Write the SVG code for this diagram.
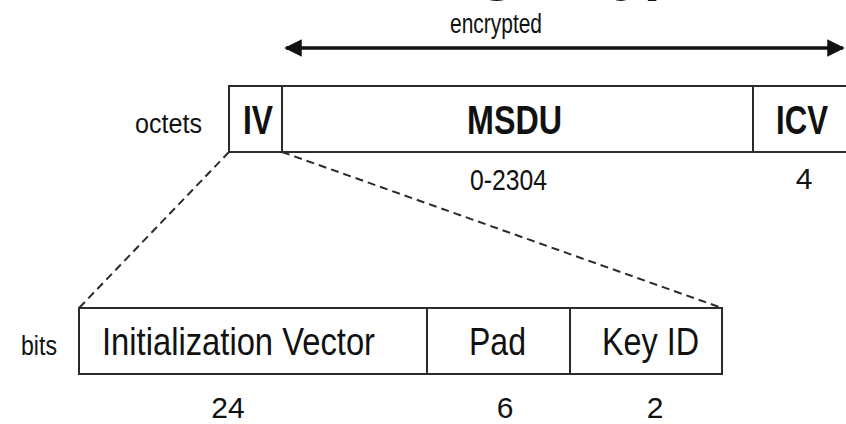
<svg xmlns="http://www.w3.org/2000/svg" width="846" height="424" viewBox="0 0 846 424">
  <defs>
    <style>
      .box { fill: #ffffff; stroke: #2b2b2b; stroke-width: 2; }
      .div { stroke: #2b2b2b; stroke-width: 2; }
      .dash { stroke: #2b2b2b; stroke-width: 2; stroke-dasharray: 8 5; fill: none; }
      .t { font-family: "Liberation Sans", Arial, sans-serif; fill: #111111; }
      .hdr { font-weight: bold; font-size: 40px; }
      .fld { font-size: 39px; }
      .num { font-size: 30px; }
      .lab { font-size: 27px; }
    </style>
    <marker id="arrowHead" viewBox="0 0 10 10" refX="9" refY="5" markerWidth="5" markerHeight="5" orient="auto-start-reverse" markerUnits="strokeWidth">
      <path d="M0,0 L10,5 L0,10 Z" fill="#111111"/>
    </marker>
  </defs>

  <rect width="846" height="424" fill="#ffffff"/>

  <!-- heading, cut off by the top edge: only its descenders remain -->
  <text class="t" x="234" y="-12" font-size="62" font-weight="bold">Encoding Key)</text>

  <!-- encrypted span -->
  <g id="encrypted-span">
    <line x1="286" y1="48" x2="843" y2="48" stroke="#111111" stroke-width="3.5" marker-start="url(#arrowHead)" marker-end="url(#arrowHead)"/>
    <text class="t lab" x="496" y="33" text-anchor="middle" textLength="92" lengthAdjust="spacingAndGlyphs">encrypted</text>
  </g>

  <!-- octet frame -->
  <g id="octet-frame">
    <text class="t lab" x="135" y="133" textLength="67" lengthAdjust="spacingAndGlyphs">octets</text>
    <rect class="box" x="229" y="86" width="640" height="66"/>
  </g>
  <g id="iv">
    <line class="div" x1="282" y1="86" x2="282" y2="152"/>
    <text class="t hdr" x="243" y="133.5" textLength="30" lengthAdjust="spacingAndGlyphs">IV</text>
  </g>
  <g id="msdu">
    <text class="t hdr" x="467" y="133.5" textLength="95" lengthAdjust="spacingAndGlyphs">MSDU</text>
    <text class="t num" x="470" y="190" textLength="77" lengthAdjust="spacingAndGlyphs">0-2304</text>
  </g>
  <g id="icv">
    <line class="div" x1="753" y1="86" x2="753" y2="152"/>
    <text class="t hdr" x="776" y="133.5" textLength="52" lengthAdjust="spacingAndGlyphs">ICV</text>
    <text class="t num" x="804" y="189" text-anchor="middle">4</text>
  </g>

  <!-- expansion of the IV field -->
  <g id="connectors">
    <line class="dash" x1="229" y1="152" x2="79" y2="308"/>
    <line class="dash" x1="282" y1="152" x2="722" y2="308"/>
  </g>

  <!-- bit frame -->
  <g id="bit-frame">
    <text class="t lab" x="21" y="355" textLength="36" lengthAdjust="spacingAndGlyphs">bits</text>
    <rect class="box" x="79" y="308" width="643" height="66"/>
  </g>
  <g id="init-vector">
    <text class="t fld" x="102" y="355" textLength="273" lengthAdjust="spacingAndGlyphs">Initialization Vector</text>
    <text class="t num" x="228" y="418" text-anchor="middle">24</text>
  </g>
  <g id="pad">
    <line class="div" x1="427" y1="308" x2="427" y2="374"/>
    <text class="t fld" x="469" y="355" textLength="57" lengthAdjust="spacingAndGlyphs">Pad</text>
    <text class="t num" x="505" y="418" text-anchor="middle">6</text>
  </g>
  <g id="key-id">
    <line class="div" x1="570" y1="308" x2="570" y2="374"/>
    <text class="t fld" x="602" y="355" textLength="97" lengthAdjust="spacingAndGlyphs">Key ID</text>
    <text class="t num" x="655" y="418" text-anchor="middle">2</text>
  </g>
</svg>
